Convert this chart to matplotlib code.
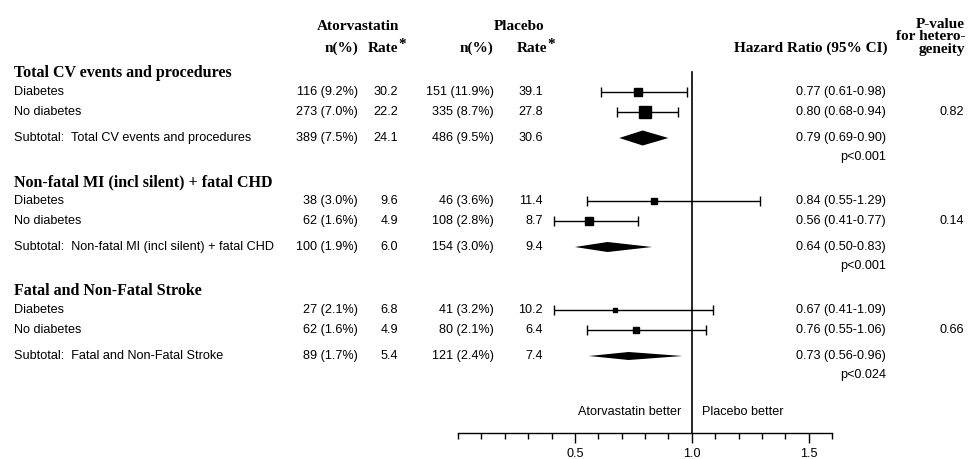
import numpy as np
import matplotlib.pyplot as plt
from matplotlib.ticker import MultipleLocator, FixedLocator

# outcome groups
groups = ["Total CV events and procedures",
          "Non-fatal MI (incl silent) + fatal CHD",
          "Fatal and Non-Fatal Stroke"]
sub_labels = ["Diabetes", "No diabetes"]

# atorvastatin: n(%) and rate, per group: diabetes, no diabetes, subtotal
ator_n = [["116 (9.2%)", "273 (7.0%)", "389 (7.5%)"],
          ["38 (3.0%)", "62 (1.6%)", "100 (1.9%)"],
          ["27 (2.1%)", "62 (1.6%)", "89 (1.7%)"]]
ator_rate = [["30.2", "22.2", "24.1"],
             ["9.6", "4.9", "6.0"],
             ["6.8", "4.9", "5.4"]]
plac_n = [["151 (11.9%)", "335 (8.7%)", "486 (9.5%)"],
          ["46 (3.6%)", "108 (2.8%)", "154 (3.0%)"],
          ["41 (3.2%)", "80 (2.1%)", "121 (2.4%)"]]
plac_rate = [["39.1", "27.8", "30.6"],
             ["11.4", "8.7", "9.4"],
             ["10.2", "6.4", "7.4"]]

hr = [[0.77, 0.80, 0.79], [0.84, 0.56, 0.64], [0.67, 0.76, 0.73]]
lo = [[0.61, 0.68, 0.69], [0.55, 0.41, 0.50], [0.41, 0.55, 0.56]]
hi = [[0.98, 0.94, 0.90], [1.29, 0.77, 0.83], [1.09, 1.06, 0.96]]
pval = ["p<0.001", "p<0.001", "p<0.024"]
p_het = ["0.82", "0.14", "0.66"]
# marker weights (square size) and diamond heights
sq_size = [[5.3, 9.0], [3.8, 5.8], [2.4, 4.4]]
dia_h = [15, 10, 8]

W, H = 968, 459
fig = plt.figure(figsize=(W / 100, H / 100), dpi=100)
tx = fig.add_axes([0, 0, 1, 1])
tx.set_xlim(0, W)
tx.set_ylim(H, 0)
tx.axis("off")

sans = "Liberation Sans"
serif = "Liberation Serif"
fs = 9.1
hfs = 11

# column headers
tx.text(358, 27, "Atorvastatin", ha="center", va="center", family=serif, weight="bold", fontsize=hfs)
tx.text(519, 27, "Placebo", ha="center", va="center", family=serif, weight="bold", fontsize=hfs)
for nx, rx in [(358, 368), (493, 517)]:
    tx.text(nx, 48, "n(%)", ha="right", va="center", family=serif, weight="bold", fontsize=hfs)
    tx.text(rx, 48, "Rate", ha="left", va="center", family=serif, weight="bold", fontsize=hfs)
    tx.text(rx + 30, 44, "*", ha="left", va="center", family=serif, weight="bold", fontsize=hfs)
tx.text(888, 48, "Hazard Ratio (95% CI)", ha="right", va="center", family=serif, weight="bold", fontsize=hfs)
for yy, s in zip([25, 37, 49], ["P-value", "for hetero-", "geneity"]):
    tx.text(965, yy, s, ha="right", va="center", family=serif, weight="bold", fontsize=hfs)

# forest axes, x in hazard ratio units
x0, x1 = 458, 832
y_axis = 433
fa = fig.add_axes([x0 / W, (H - y_axis) / H, (x1 - x0) / W, y_axis / H])
fa.set_xlim(0, 1.6)
fa.set_ylim(y_axis, 0)
fa.patch.set_alpha(0)
for s in ["top", "left", "right"]:
    fa.spines[s].set_visible(False)
fa.spines["bottom"].set_linewidth(1.0)
fa.yaxis.set_visible(False)
fa.xaxis.set_major_locator(FixedLocator([0.5, 1.0, 1.5]))
fa.xaxis.set_minor_locator(MultipleLocator(0.1))
fa.tick_params(axis="x", which="major", length=7, width=1, pad=4, labelsize=fs)
fa.tick_params(axis="x", which="minor", length=4, width=1)
fa.set_xticklabels(["0.5", "1.0", "1.5"], family=sans)

fa.plot([1.0, 1.0], [72, y_axis], color="black", lw=1.2)

g0 = 73
gstep = 109
for g in range(3):
    yg = g0 + g * gstep
    rows = [yg + 19, yg + 39, yg + 65]
    tx.text(14, yg, groups[g], ha="left", va="center", family=serif, weight="bold", fontsize=hfs + 0.5)
    for i in range(3):
        lab = sub_labels[i] if i < 2 else "Subtotal:  " + groups[g]
        tx.text(14, rows[i], lab, ha="left", va="center", family=sans, fontsize=fs)
        tx.text(358, rows[i], ator_n[g][i], ha="right", va="center", family=sans, fontsize=fs)
        tx.text(398, rows[i], ator_rate[g][i], ha="right", va="center", family=sans, fontsize=fs)
        tx.text(494, rows[i], plac_n[g][i], ha="right", va="center", family=sans, fontsize=fs)
        tx.text(543, rows[i], plac_rate[g][i], ha="right", va="center", family=sans, fontsize=fs)
        ci = "%.2f (%.2f-%.2f)" % (hr[g][i], lo[g][i], hi[g][i])
        tx.text(886, rows[i], ci, ha="right", va="center", family=sans, fontsize=fs)
        if i < 2:
            fa.errorbar(hr[g][i], rows[i], xerr=[[hr[g][i] - lo[g][i]], [hi[g][i] - hr[g][i]]],
                        fmt="s", color="black", ms=sq_size[g][i], elinewidth=1,
                        capsize=3.5, capthick=1)
        else:
            h = dia_h[g] / 2
            fa.fill([lo[g][i], hr[g][i], hi[g][i], hr[g][i]],
                    [rows[i], rows[i] - h, rows[i], rows[i] + h], color="black", lw=0)
    tx.text(886, yg + 84, pval[g], ha="right", va="center", family=sans, fontsize=fs)
    tx.text(964, rows[1], p_het[g], ha="right", va="center", family=sans, fontsize=fs)

tx.text(681, 412, "Atorvastatin better", ha="right", va="center", family=sans, fontsize=fs)
tx.text(702, 412, "Placebo better", ha="left", va="center", family=sans, fontsize=fs)

fig.savefig("out.png", dpi=100)
